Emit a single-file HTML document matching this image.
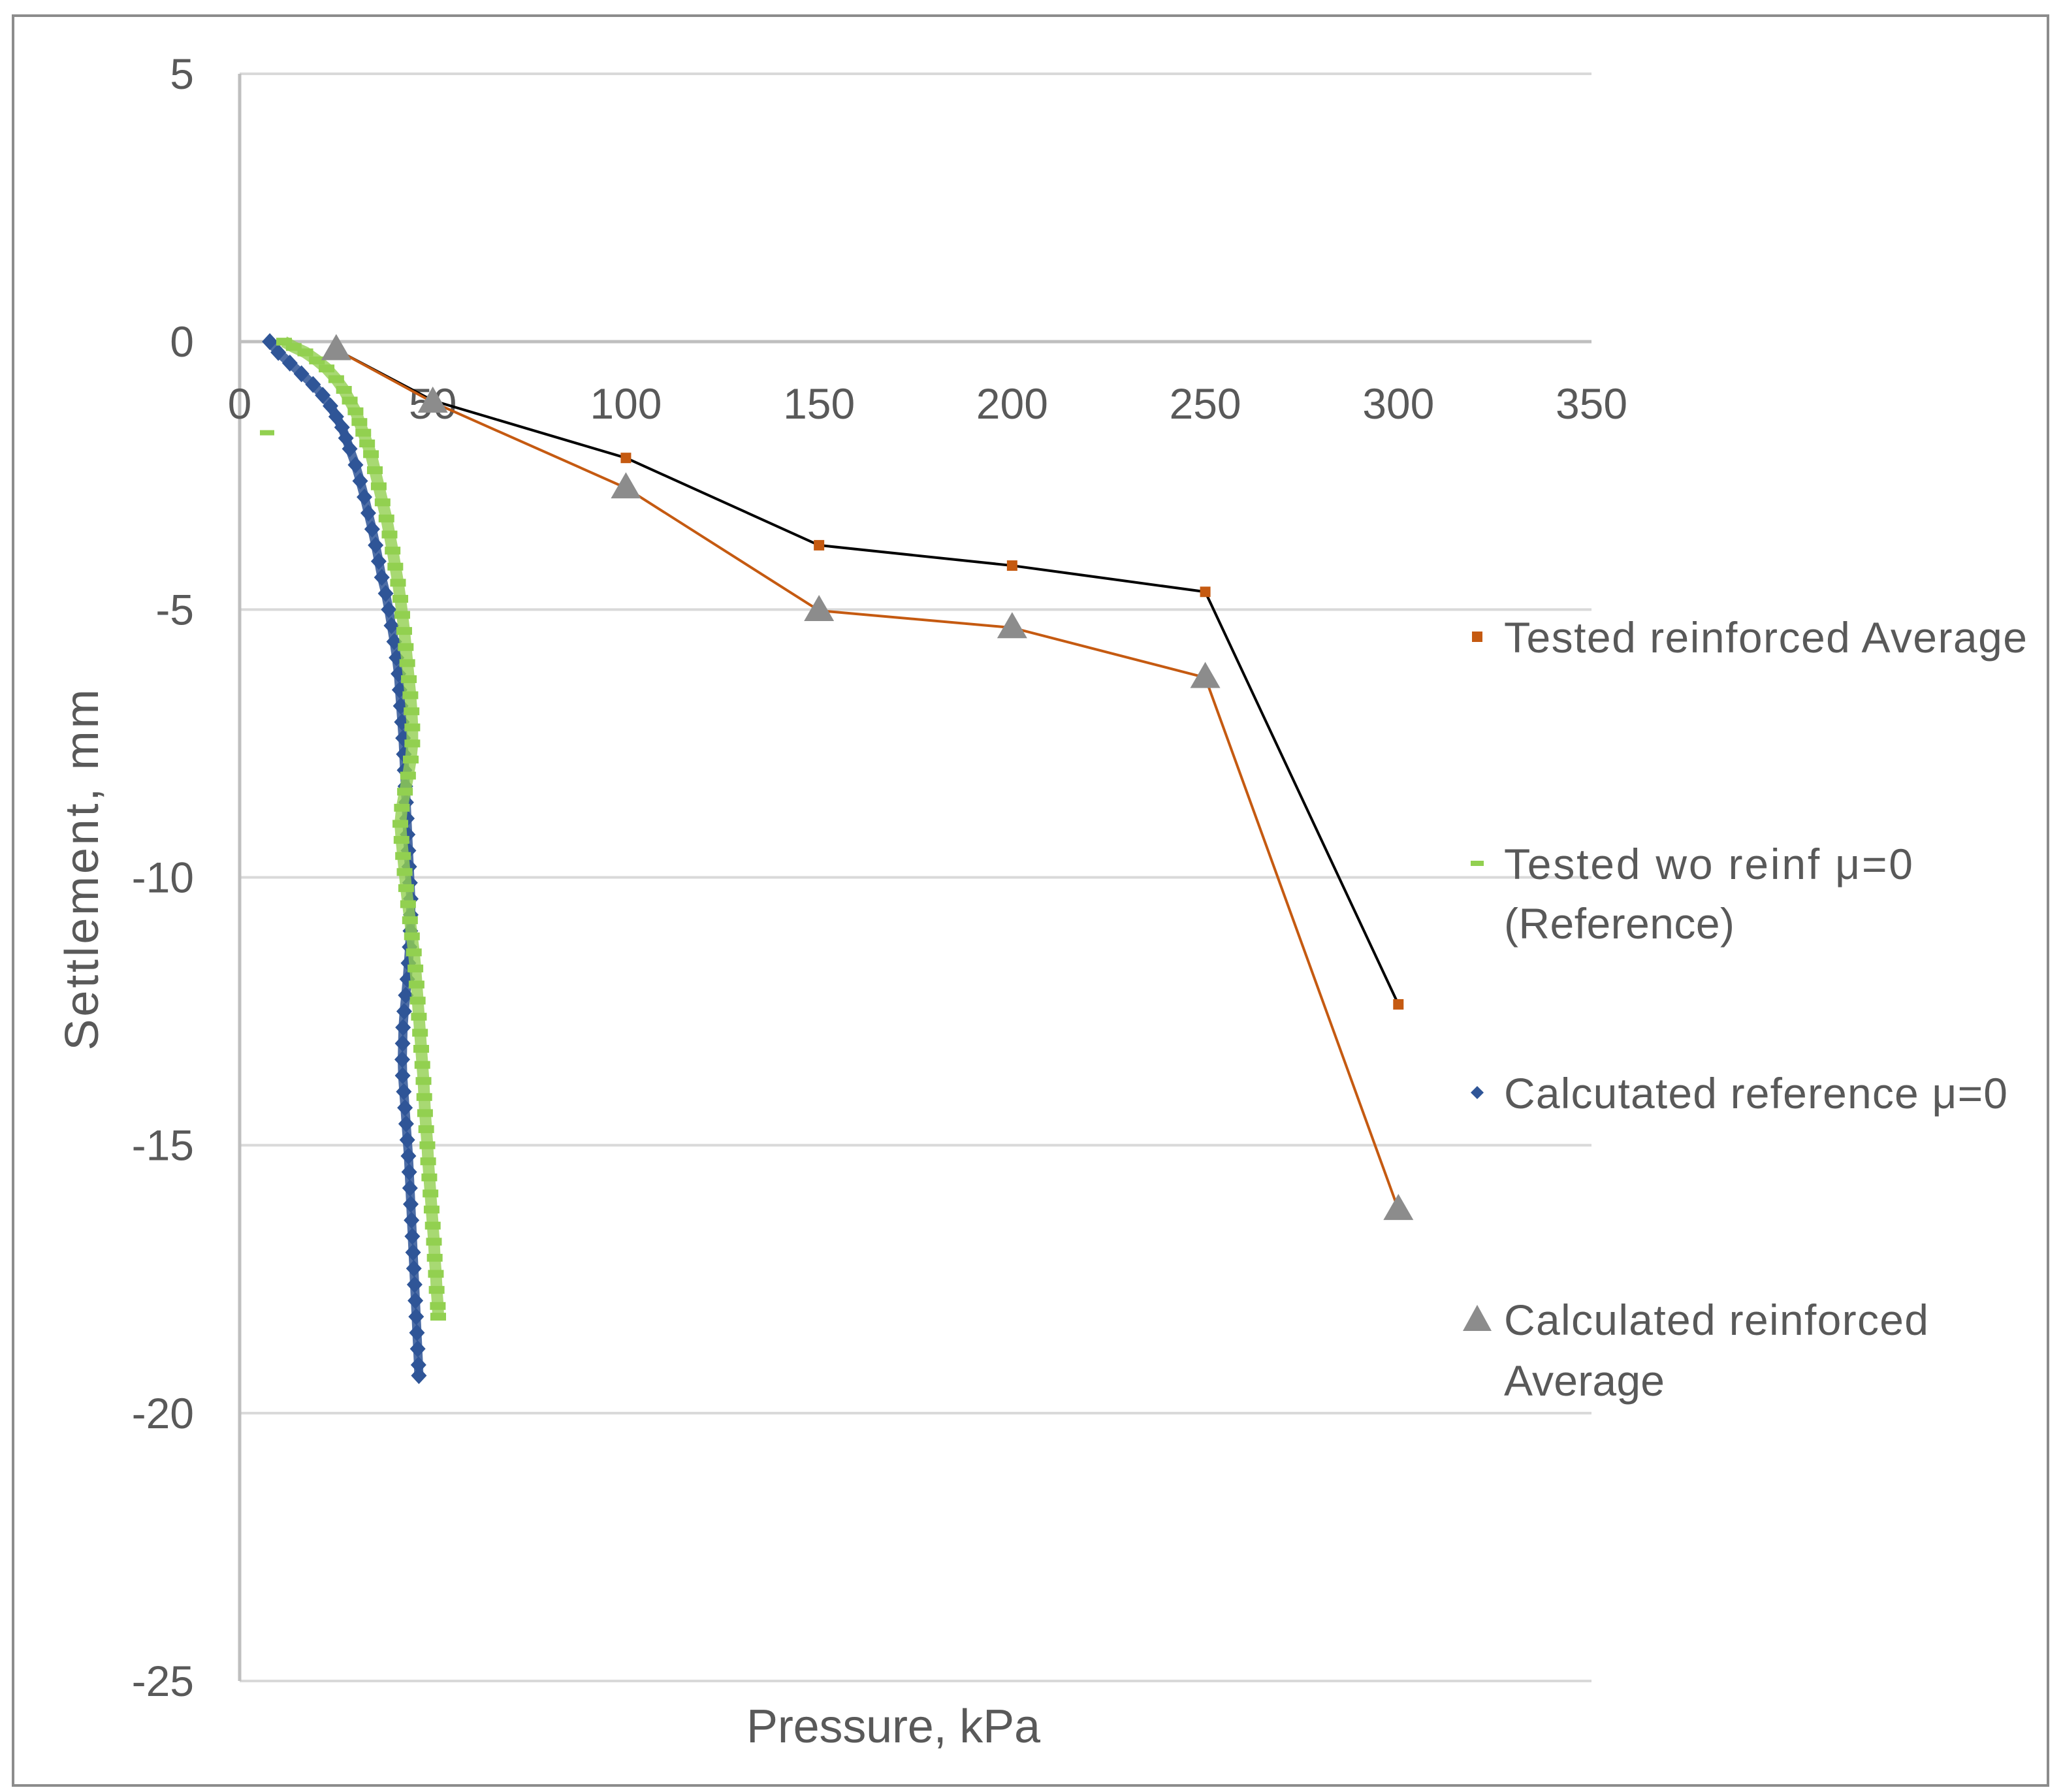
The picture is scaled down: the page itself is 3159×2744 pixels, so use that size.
<!DOCTYPE html>
<html><head><meta charset="utf-8"><style>html,body{margin:0;padding:0;background:#fff}svg{display:block}</style></head>
<body>
<svg id="chart" width="3159" height="2744" viewBox="0 0 3159 2744" xmlns="http://www.w3.org/2000/svg" font-family="'Liberation Sans', sans-serif">
<rect x="20" y="24" width="3116" height="2710" fill="#fff" stroke="#8c8c8c" stroke-width="4"/>
<g id="grid"></g>
<g id="axes"></g>
<g id="series"></g>
<text x="1368" y="2668" font-size="72" fill="#595959" text-anchor="middle" textLength="450">Pressure, kPa</text>
<text transform="translate(150,1332) rotate(-90)" font-size="72" fill="#595959" text-anchor="middle" textLength="553">Settlement, mm</text>
<g fill="#595959" font-size="66">
 <g>
  <rect x="2254" y="967" width="16" height="16" fill="#C55A11"/>
  <text x="2303" y="999" textLength="801">Tested reinforced Average</text></g>
 <g>
  <rect x="2252" y="1318" width="20" height="8" fill="#92D050"/>
  <text x="2303" y="1346" textLength="626">Tested wo reinf  μ=0</text>
  <text x="2303" y="1437" textLength="353">(Reference)</text></g>
 <g>
  <polygon points="2262,1663 2272,1673 2262,1683 2252,1673" fill="#2F5597"/>
  <text x="2303" y="1697" textLength="771">Calcutated reference μ=0</text></g>
 <g>
  <polygon points="2262,1998 2284,2038 2240,2038" fill="#8c8c8c"/>
  <text x="2303" y="2044" textLength="650">Calculated reinforced</text>
  <text x="2303" y="2137" textLength="246">Average</text></g>
</g>
</svg>
<script>
const xTicks=[0,50,100,150,200,250,300,350];
const yTicks=[5,0,-5,-10,-15,-20,-25];
const testedP=[25,50,100,150,200,250,300];
const testedS=[-0.15,-1.1,-2.17,-3.8,-4.18,-4.67,-12.37];
const calcP=[25,50,100,150,200,250,300];
const calcS=[-0.15,-1.13,-2.73,-5.02,-5.34,-6.27,-16.2];
const woP=[11.5,14,17,20,22.5,25,27,28.5,30,31,32,33,34,35,36,37,38,38.8,39.6,40.3,41,41.6,42.1,42.6,43,43.4,43.8,44.2,44.5,44.7,44.7,44.3,43.6,42.8,42,41.6,41.9,42.3,42.7,43.1,43.6,44.1,44.6,45.1,45.5,45.8,46.1,46.4,46.7,47,47.3,47.6,47.8,48,48.3,48.6,48.8,49.1,49.4,49.7,50,50.3,50.5,50.8,51,51.3,51.4];
const woS=[0,-0.1,-0.2,-0.35,-0.5,-0.7,-0.9,-1.1,-1.3,-1.5,-1.7,-1.9,-2.1,-2.4,-2.7,-3,-3.3,-3.6,-3.9,-4.2,-4.5,-4.8,-5.1,-5.4,-5.7,-6,-6.3,-6.6,-6.9,-7.2,-7.5,-7.8,-8.1,-8.4,-8.7,-9,-9.3,-9.6,-9.9,-10.2,-10.5,-10.8,-11.1,-11.4,-11.7,-12,-12.3,-12.6,-12.9,-13.2,-13.5,-13.8,-14.1,-14.4,-14.7,-15,-15.3,-15.6,-15.9,-16.2,-16.5,-16.8,-17.1,-17.4,-17.7,-18,-18.2];
const woStrayP=[7.1];
const woStrayS=[-1.7];
const refP=[7.8,10,13,16,19,21.5,23.5,25,26.5,27.5,28.5,30,31.2,32.3,33.3,34.3,35.2,36,36.8,37.8,38.6,39.3,40,40.6,41.1,41.4,41.7,42,42.3,42.5,42.7,42.9,43.1,43.3,43.5,43.7,43.9,44.1,44.3,44.3,44.2,44,43.7,43.4,43,42.6,42.3,42.2,42.1,42.2,42.5,42.8,43.1,43.4,43.7,43.9,44.1,44.3,44.5,44.7,44.9,45.1,45.3,45.5,45.7,45.9,46.1,46.3,46.4];
const refS=[0,-0.2,-0.4,-0.6,-0.8,-1,-1.2,-1.4,-1.6,-1.8,-2,-2.3,-2.6,-2.9,-3.2,-3.5,-3.8,-4.1,-4.4,-4.7,-5,-5.3,-5.6,-5.9,-6.2,-6.5,-6.8,-7.1,-7.4,-7.7,-8,-8.3,-8.6,-8.9,-9.2,-9.5,-9.8,-10.1,-10.4,-10.7,-11,-11.3,-11.6,-11.9,-12.2,-12.5,-12.8,-13.1,-13.4,-13.7,-14,-14.3,-14.6,-14.9,-15.2,-15.5,-15.8,-16.1,-16.4,-16.7,-17,-17.3,-17.6,-17.9,-18.2,-18.5,-18.8,-19.1,-19.3];

const NS='http://www.w3.org/2000/svg';
const X0=367,X1=2437,Y5=113,Ym25=2574;
function X(v){return X0+(v-0)/350*(X1-X0);}
function Y(v){return Y5+(5-v)/30*(Ym25-Y5);}
function mk(tag,attrs,parent){const e=document.createElementNS(NS,tag);for(const k in attrs)e.setAttribute(k,attrs[k]);parent.appendChild(e);return e;}
const grid=document.getElementById('grid'),axes=document.getElementById('axes'),ser=document.getElementById('series');
yTicks.forEach(t=>{
  if(t!==0&&t!==-25){const l=mk('line',{x1:X0,x2:X1,y1:Y(t),y2:Y(t),stroke:'#d9d9d9','stroke-width':4},grid);
  
  }
  const tx=mk('text',{x:297,y:Y(t)+23,'font-size':66,fill:'#595959','text-anchor':'end'},axes);
  tx.textContent=String(t);
  
  
});
const bl=mk('line',{x1:X0,x2:X1,y1:Y(-25),y2:Y(-25),stroke:'#d9d9d9','stroke-width':4},grid);


const za=mk('line',{x1:X0,x2:X1,y1:Y(0),y2:Y(0),stroke:'#bfbfbf','stroke-width':5},axes);


const ya=mk('line',{x1:X0,x2:X0,y1:Y(5),y2:Y(-25),stroke:'#bfbfbf','stroke-width':5},axes);


xTicks.forEach(t=>{
  const tx=mk('text',{x:X(t),y:641,'font-size':66,fill:'#595959','text-anchor':'middle'},axes);
  tx.textContent=String(t);
  
  
});
// blue calculated reference: dense marker trail
const rl=mk('polyline',{points:refP.map((p,i)=>X(p)+','+Y(refS[i])).join(' '),fill:'none',stroke:'#2F5597','stroke-width':14,'stroke-linejoin':'round','stroke-linecap':'round',opacity:0.85},ser);


refP.forEach((p,i)=>{const x=X(p),y=Y(refS[i]);
  const d=mk('polygon',{points:`${x},${y-13} ${x+12},${y} ${x},${y+13} ${x-12},${y}`,fill:'#2F5597'},ser);
  
  });
// green tested wo reinf
const gl=mk('polyline',{points:woP.map((p,i)=>X(p)+','+Y(woS[i])).join(' '),fill:'none',stroke:'#92D050','stroke-width':18,'stroke-linejoin':'round',opacity:0.8},ser);


woP.forEach((p,i)=>{const x=X(p),y=Y(woS[i]);
  const r=mk('rect',{x:x-12,y:y-6,width:24,height:12,fill:'#92D050'},ser);
  
  });
woStrayP.forEach((p,i)=>{const x=X(p),y=Y(woStrayS[i]);
  const r=mk('rect',{x:x-11,y:y-4,width:22,height:8,fill:'#92D050'},ser);
  
  });
// tested reinforced black line + orange squares
const tl=mk('polyline',{points:testedP.map((p,i)=>X(p)+','+Y(testedS[i])).join(' '),fill:'none',stroke:'#000','stroke-width':4},ser);


testedP.forEach((p,i)=>{const x=X(p),y=Y(testedS[i]);
  const r=mk('rect',{x:x-8,y:y-8,width:16,height:16,fill:'#C55A11'},ser);
  
  });
// calculated reinforced orange line + grey triangles
const cl=mk('polyline',{points:calcP.map((p,i)=>X(p)+','+Y(calcS[i])).join(' '),fill:'none',stroke:'#C55A11','stroke-width':4},ser);


calcP.forEach((p,i)=>{const x=X(p),y=Y(calcS[i]);
  const t=mk('polygon',{points:`${x},${y-24} ${x+23},${y+16} ${x-23},${y+16}`,fill:'#8c8c8c'},ser);
  
  });
</script>
</body></html>
